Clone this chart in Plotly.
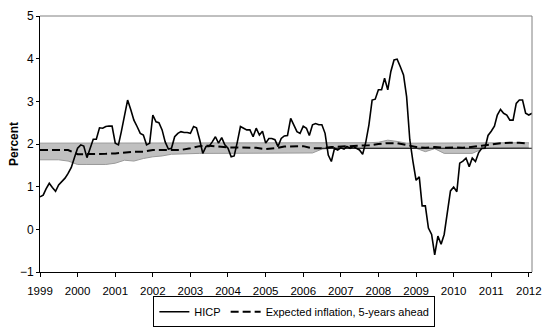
import pandas as pd
import plotly.graph_objects as go

# ---------------- data ----------------
hicp_start = "1999-01-01"
hicp = [
    # 1999
    0.76, 0.80, 0.95, 1.08, 0.98, 0.89, 1.04, 1.12, 1.20, 1.31, 1.45, 1.68,
    # 2000
    1.90, 1.98, 1.95, 1.68, 1.90, 2.11, 2.11, 2.38, 2.37, 2.41, 2.42, 2.42,
    # 2001
    2.02, 1.98, 2.29, 2.64, 3.03, 2.80, 2.56, 2.41, 2.25, 2.21, 1.98, 2.02,
    # 2002
    2.68, 2.52, 2.50, 2.33, 2.05, 1.88, 1.90, 2.17, 2.25, 2.29, 2.27, 2.27,
    # 2003
    2.25, 2.41, 2.38, 2.10, 1.78, 1.94, 1.94, 2.05, 2.17, 2.02, 2.15, 1.98,
    # 2004
    1.90, 1.70, 1.72, 2.05, 2.41, 2.37, 2.33, 2.33, 2.17, 2.37, 2.21, 2.30,
    # 2005
    2.02, 2.13, 2.13, 2.10, 1.94, 2.13, 2.19, 2.20, 2.60, 2.45, 2.29, 2.25,
    # 2006
    2.42, 2.37, 2.20, 2.45, 2.48, 2.45, 2.45, 2.25, 1.74, 1.59, 1.90, 1.86,
    # 2007
    1.91, 1.88, 1.94, 1.90, 1.94, 1.90, 1.86, 1.76, 2.05, 2.45, 3.03, 3.05,
    # 2008
    3.27, 3.27, 3.54, 3.27, 3.70, 3.97, 3.99, 3.81, 3.62, 3.11, 2.10, 1.60,
    # 2009
    1.15, 1.23, 0.55, 0.55, 0.03, -0.12, -0.60, -0.16, -0.35, -0.12, 0.45, 0.90,
    # 2010
    0.99, 0.88, 1.55, 1.60, 1.67, 1.47, 1.67, 1.59, 1.80, 1.90, 1.90, 2.20,
    # 2011
    2.30, 2.42, 2.68, 2.81, 2.72, 2.68, 2.56, 2.56, 2.95, 3.03, 3.03, 2.72,
    # 2012
    2.68, 2.72,
]

q_start = "1999-01-01"
expected = [
    1.86, 1.86, 1.86, 1.86,
    1.76, 1.76, 1.76, 1.77,
    1.78, 1.80, 1.82, 1.82,
    1.86, 1.86, 1.86, 1.86,
    1.90, 1.95, 1.96, 1.94,
    1.92, 1.92, 1.92, 1.91,
    1.88, 1.90, 1.94, 1.95,
    1.95, 1.90, 1.90, 1.93,
    1.94, 1.94, 1.95, 1.97,
    2.00, 2.02, 2.02, 1.97,
    1.93, 1.91, 1.93, 1.91,
    1.92, 1.91, 1.93, 1.96,
    1.99, 2.02, 2.03, 2.03,
    2.01,
]
band_upper = [
    2.02, 2.02, 2.02, 2.02,
    2.02, 2.02, 2.02, 2.02,
    2.02, 2.02, 2.02, 2.02,
    2.02, 2.02, 2.02, 2.02,
    2.02, 2.02, 2.02, 2.02,
    2.02, 2.02, 2.02, 2.02,
    2.02, 2.02, 2.02, 2.02,
    2.02, 2.02, 2.02, 2.02,
    2.02, 2.02, 2.02, 2.03,
    2.04, 2.09, 2.06, 2.02,
    2.02, 2.02, 2.02, 2.02,
    2.02, 2.02, 2.02, 2.02,
    2.03, 2.03, 2.03, 2.03,
    2.03,
]
band_lower = [
    1.63, 1.63, 1.63, 1.60,
    1.52, 1.52, 1.52, 1.52,
    1.55, 1.62, 1.60, 1.66,
    1.70, 1.72, 1.76, 1.77,
    1.78, 1.78, 1.78, 1.78,
    1.78, 1.78, 1.78, 1.78,
    1.79, 1.79, 1.79, 1.79,
    1.79, 1.79, 1.88, 1.90,
    1.90, 1.90, 1.90, 1.90,
    1.90, 1.90, 1.90, 1.90,
    1.90, 1.82, 1.89, 1.78,
    1.78, 1.78, 1.78, 1.88,
    1.91, 1.91, 1.91, 1.91,
    1.92,
]

ref_level = 1.9
ref_start, ref_end = "2006-07-01", "2012-02-01"

years = list(range(1999, 2013))
tick_labels = [str(y) for y in years]

# ---------------- figure ----------------
hx = pd.date_range(hicp_start, periods=len(hicp), freq="MS")
qx = pd.date_range(q_start, periods=len(expected), freq="QS")

fig = go.Figure()
fig.add_trace(go.Scatter(x=qx, y=band_lower, mode="lines",
                         line=dict(color="#9a9a9a", width=1),
                         showlegend=False, hoverinfo="skip"))
fig.add_trace(go.Scatter(x=qx, y=band_upper, mode="lines", fill="tonexty",
                         fillcolor="#c0c0c0", line=dict(color="#9a9a9a", width=1),
                         showlegend=False, hoverinfo="skip"))
fig.add_trace(go.Scatter(x=[ref_start, ref_end], y=[ref_level, ref_level], mode="lines",
                         line=dict(color="black", width=1.2),
                         showlegend=False, hoverinfo="skip"))
fig.add_trace(go.Scatter(x=hx, y=hicp, mode="lines", name="HICP",
                         line=dict(color="black", width=1.6)))
fig.add_trace(go.Scatter(x=qx, y=expected, mode="lines",
                         name="Expected inflation, 5-years ahead",
                         line=dict(color="black", width=2, dash="8px,4px")))

font = "Liberation Sans, Arial, sans-serif"

fig.update_layout(
    width=544, height=329,
    margin=dict(l=40, r=12, t=16, b=57, autoexpand=False),
    paper_bgcolor="white", plot_bgcolor="white",
    font=dict(family=font, color="black", size=11),
    showlegend=True,
    legend=dict(orientation="h", x=0.517, xanchor="center", y=-0.216, yanchor="bottom",
                bordercolor="black", borderwidth=1, bgcolor="white",
                font=dict(size=11, family=font), itemwidth=30,
                traceorder="normal", tracegroupgap=0),
    xaxis=dict(
        range=["1999-01-01", "2012-02-01"],
        tickmode="array",
        tickvals=[f"{y}-01-01" for y in years],
        ticktext=tick_labels,
        ticks="outside", ticklen=4, tickcolor="black", tickwidth=1,
        showline=True, linecolor="black", linewidth=1,
        showgrid=False, zeroline=False,
        tickfont=dict(size=11.5),
        ticklabelstandoff=4,
    ),
    yaxis=dict(
        range=[-1, 5], dtick=1, tick0=-1,
        ticks="outside", ticklen=3, tickcolor="black", tickwidth=1,
        showline=True, linecolor="black", linewidth=1,
        showgrid=False, zeroline=False,
        tickfont=dict(size=12),
    ),
    shapes=[
        dict(type="line", xref="paper", yref="paper", x0=0, x1=1, y0=1, y1=1,
             line=dict(color="#808080", width=1)),
        dict(type="line", xref="paper", yref="paper", x0=1, x1=1, y0=0, y1=1,
             line=dict(color="#808080", width=1)),
    ],
    annotations=[
        dict(text="<b>Percent</b>", xref="paper", yref="paper",
             x=-0.053, y=0.5, textangle=-90, showarrow=False,
             xanchor="center", yanchor="middle", font=dict(size=12, family=font)),
    ],
)

fig.write_html("out.html")
